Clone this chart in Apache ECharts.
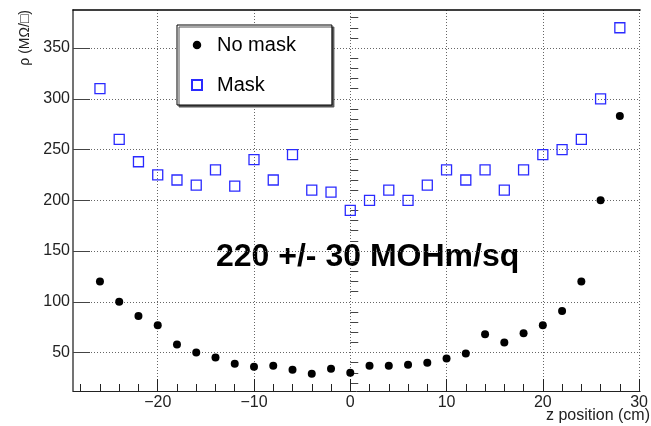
<!DOCTYPE html>
<html lang="en" style="height: 100%">
<head>
    <meta charset="utf-8">
    <script src="https://cdn.jsdelivr.net/npm/echarts@6/dist/echarts.min.js"></script>
</head>
<body style="height: 100%; margin: 0; overflow: hidden; background: #fff">
<div id="container" style="height: 426px; width: 651px"></div>

<script type="text/javascript">
    // z positions (cm)
    var zPos = [-26, -24, -22, -20, -18, -16, -14, -12, -10, -8, -6, -4, -2, 0,
                2, 4, 6, 8, 10, 12, 14, 16, 18, 20, 22, 24, 26, 28];
    // resistivity, no mask
    var noMask = [120, 100, 86, 77, 58, 50, 45, 39, 36, 37, 33, 29, 34, 30,
                  37, 37, 38, 40, 44, 49, 68, 60, 69, 77, 91, 120, 200, 283];
    // resistivity, with mask
    var mask = [310, 260, 238, 225, 220, 215, 230, 214, 240, 220, 245, 210, 208, 190,
                200, 210, 200, 215, 230, 220, 230, 210, 230, 245, 250, 260, 300, 370];

    var xMajor = [-20, -10, 0, 10, 20, 30];
    var yMajor = [50, 100, 150, 200, 250, 300, 350];
    var xMinor = [];
    for (var i = -28; i <= 30; i += 2) if (i % 10 !== 0) xMinor.push(i);
    var yMinor = [];
    for (var j = 20; j <= 380; j += 10) if (j % 50 !== 0) yMinor.push(j);

    var FONT = '"Liberation Sans", Arial, sans-serif';
    var X_MIN = -28.8, X_MAX = 30.1, Y_MIN = 12.1, Y_MAX = 387.5;

    function pairs(xs, ys) {
      return xs.map(function (x, k) { return [x, ys[k]]; });
    }

    var dom = document.getElementById('container');
    var myChart = echarts.init(dom, null, { renderer: 'canvas' });

    var gridLine = { show: true, lineStyle: { color: '#666', width: 1, type: [1, 2] } };

    var option = {
      animation: false,
      backgroundColor: '#fff',
      grid: { left: 73, top: 10, width: 574, height: 381 },
      legend: {
        orient: 'vertical',
        left: 177,
        top: 25,
        padding: [10, 36, 10, 14],
        itemGap: 20,
        itemWidth: 10,
        itemHeight: 10,
        borderColor: '#000',
        borderWidth: 1,
        backgroundColor: '#fff',
        shadowColor: '#555',
        shadowOffsetX: 2,
        shadowOffsetY: 2,
        shadowBlur: 0,
        textStyle: { fontFamily: FONT, fontSize: 20, color: '#000', lineHeight: 20, padding: [0, 0, 0, 10] },
        data: [
          { name: 'No mask', itemStyle: { borderColor: '#fff', borderWidth: 1.5 } },
          { name: 'Mask' }
        ]
      },
      xAxis: [
        {
          type: 'value', min: X_MIN, max: X_MAX, position: 'bottom',
          axisLine: { show: true, onZero: false, lineStyle: { color: '#222', width: 1 } },
          axisTick: { show: true, inside: true, length: 12, customValues: xMajor, lineStyle: { color: '#222' } },
          axisLabel: {
            customValues: xMajor, margin: 4, fontFamily: FONT, fontSize: 16, color: '#222',
            formatter: function (v) { return v % 10 === 0 ? String(v).replace('-', '\u2212') : ''; }
          },
          splitLine: gridLine
        },
        {
          type: 'value', min: X_MIN, max: X_MAX, position: 'bottom',
          axisLine: { show: false },
          axisTick: { show: true, inside: true, length: 7, customValues: xMinor, lineStyle: { color: '#222' } },
          axisLabel: { show: false },
          splitLine: { show: false }
        },
        {
          type: 'value', min: X_MIN, max: X_MAX, position: 'top',
          axisLine: { show: true, lineStyle: { color: '#000', width: 1.5 } },
          axisTick: { show: false }, axisLabel: { show: false }, splitLine: { show: false }
        }
      ],
      yAxis: [
        {
          type: 'value', min: Y_MIN, max: Y_MAX, position: 'left',
          axisLine: { show: true, onZero: false, lineStyle: { color: '#444', width: 1.5 } },
          axisTick: { show: true, inside: true, length: 17, customValues: yMajor, lineStyle: { color: '#444' } },
          axisLabel: {
            customValues: yMajor, margin: 3, fontFamily: FONT, fontSize: 16, color: '#222',
            formatter: function (v) { return v % 50 === 0 ? String(v) : ''; }
          },
          splitLine: gridLine
        },
        {
          type: 'value', min: Y_MIN, max: Y_MAX, position: 'left',
          axisLine: { show: false },
          axisTick: { show: true, inside: true, length: 8, customValues: yMinor, lineStyle: { color: '#444' } },
          axisLabel: { show: false },
          splitLine: { show: false }
        }
      ],
      series: [
        {
          name: 'No mask', type: 'scatter', symbol: 'circle', symbolSize: 8,
          itemStyle: { color: '#000', opacity: 1 },
          data: pairs(zPos, noMask)
        },
        {
          name: 'Mask', type: 'scatter', symbol: 'rect', symbolSize: 10,
          itemStyle: { color: 'rgba(0,0,0,0)', borderColor: '#2a2aff', borderWidth: 1.3, opacity: 1 },
          data: pairs(zPos, mask)
        }
      ],
      graphic: [
        {
          type: 'text', x: 25, y: 10, rotation: Math.PI / 2,
          style: { text: '\u03c1 (M\u03a9/\u25a1)', fontFamily: FONT, fontSize: 14, fill: '#222',
                   align: 'right', verticalAlign: 'middle' }
        },
        {
          type: 'text', x: 546, y: 416,
          style: { text: 'z position (cm)', fontFamily: FONT, fontSize: 16, fill: '#222',
                   align: 'left', verticalAlign: 'middle' }
        },
        {
          type: 'text', x: 216, y: 257,
          style: { text: '220 +/- 30 MOHm/sq', fontFamily: FONT, fontSize: 32, fontWeight: 'bold',
                   fill: '#000', align: 'left', verticalAlign: 'middle' }
        }
      ]
    };

    myChart.setOption(option);
    window.addEventListener('resize', myChart.resize);
</script>
</body>
</html>
